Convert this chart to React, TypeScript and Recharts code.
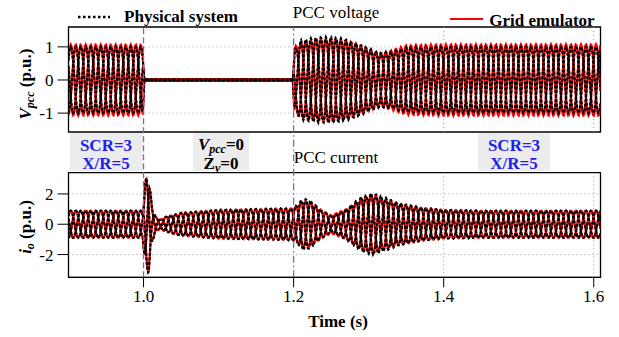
import React from 'react'
import { LineChart, Line, XAxis, YAxis, ReferenceLine, ReferenceArea } from 'recharts'

// grid frequency and sample step of the waveforms
const FREQ = 50
const PHASE0 = -0.15
const T_START = 0.9
const T_END = 1.609
const STEP = 0.001

// PCC voltage envelopes (p.u.)
const vEnvTimes = [0.9, 0.999, 1.001, 1.199, 1.201, 1.21, 1.23, 1.25, 1.27, 1.29, 1.3, 1.315, 1.33, 1.35, 1.4, 1.609]
const vPhysical = [1.0, 1.0, 0.02, 0.02, 0.9, 1.2, 1.28, 1.3, 1.22, 1.05, 0.95, 0.82, 0.85, 0.98, 1.0, 1.0]
const vEmulator = [1.07, 1.07, 0.03, 0.03, 1.0, 1.15, 1.22, 1.25, 1.2, 1.05, 0.95, 0.8, 0.9, 1.05, 1.08, 1.08]

// PCC current envelopes (p.u.)
const iEnvTimes = [0.9, 0.999, 1.002, 1.004, 1.007, 1.011, 1.016, 1.022, 1.03, 1.05, 1.1, 1.15, 1.199, 1.205, 1.212, 1.222, 1.235, 1.25, 1.27, 1.29, 1.305, 1.32, 1.34, 1.37, 1.4, 1.45, 1.609]
const iPhysical = [0.9, 0.9, 2.7, 3.2, 3.2, 1.3, 0.5, 0.3, 0.5, 0.75, 0.95, 1.0, 1.05, 1.3, 1.7, 1.6, 1.0, 0.5, 1.0, 1.8, 2.05, 1.8, 1.4, 1.1, 0.95, 0.9, 0.9]
const iEmulator = [0.9, 0.9, 2.6, 3.1, 3.1, 1.2, 0.5, 0.3, 0.5, 0.75, 0.95, 1.0, 1.05, 1.25, 1.55, 1.5, 1.0, 0.6, 1.0, 1.7, 1.95, 1.7, 1.35, 1.1, 0.95, 0.9, 0.9]

const xTicks = [1.0, 1.2, 1.4, 1.6]
const vTicks = [-1, 0, 1]
const iTicks = [-2, 0, 2]
const eventTimes = [1.0, 1.2]

const FONT = '"Liberation Serif", "Times New Roman", serif'
const PURPLE = '#8b5fc7'
const BLUE = '#1f1fee'

function envAt(ts: number[], vs: number[], t: number) {
  if (t <= ts[0]) return vs[0]
  for (let i = 1; i < ts.length; i++) {
    if (t <= ts[i]) {
      const f = (t - ts[i - 1]) / (ts[i] - ts[i - 1])
      return vs[i - 1] + f * (vs[i] - vs[i - 1])
    }
  }
  return vs[vs.length - 1]
}

function buildWave(ts: number[], phys: number[], emu: number[]) {
  const rows = []
  const n = Math.round((T_END - T_START) / STEP)
  for (let k = 0; k <= n; k++) {
    const t = +(T_START + k * STEP).toFixed(4)
    const th = 2 * Math.PI * (FREQ * t + PHASE0)
    const p = envAt(ts, phys, t)
    const e = envAt(ts, emu, t)
    rows.push({
      t,
      pa: p * Math.cos(th),
      pb: p * Math.cos(th - (2 * Math.PI) / 3),
      pc: p * Math.cos(th + (2 * Math.PI) / 3),
      ea: e * Math.cos(th),
      eb: e * Math.cos(th - (2 * Math.PI) / 3),
      ec: e * Math.cos(th + (2 * Math.PI) / 3)
    })
  }
  return rows
}

const voltageData = buildWave(vEnvTimes, vPhysical, vEmulator)
const currentData = buildWave(iEnvTimes, iPhysical, iEmulator)

const tickStyle = { fontSize: 17, fill: '#000', fontFamily: FONT }

function Txt({ x, y, children, style }: { x: number; y: number; children: React.ReactNode; style?: React.CSSProperties }) {
  return (
    <div
      style={{
        position: 'absolute',
        left: x,
        top: y,
        transform: 'translate(-50%, -50%)',
        whiteSpace: 'nowrap',
        fontFamily: FONT,
        fontSize: 17,
        lineHeight: 1,
        color: '#000',
        ...style
      }}
    >
      {children}
    </div>
  )
}

function Sub({ children }: { children: React.ReactNode }) {
  return <span style={{ fontSize: 12, fontStyle: 'italic', position: 'relative', top: 3 }}>{children}</span>
}

function Box({ x, w }: { x: number; w: number }) {
  return <div style={{ position: 'absolute', left: x, top: 133, width: w, height: 38, background: '#ececec' }} />
}

function waveLines() {
  const keys = ['a', 'b', 'c']
  return [
    ...keys.map(k => (
      <Line key={'e' + k} dataKey={'e' + k} stroke="#ff0000" strokeWidth={2.2} dot={false} isAnimationActive={false} />
    )),
    ...keys.map(k => (
      <Line
        key={'p' + k}
        dataKey={'p' + k}
        stroke="#000"
        strokeWidth={2.2}
        strokeDasharray="3 1.6"
        dot={false}
        isAnimationActive={false}
      />
    ))
  ]
}

const gridStroke = '#9a9a9a'

export default function App() {
  return (
    <div style={{ position: 'absolute', left: 0, top: 0, width: 619, height: 337, background: '#fff', overflow: 'hidden' }}>
      {/* annotation boxes under the charts */}
      <Box x={70} w={73} />
      <Box x={193} w={56} />
      <Box x={478} w={72} />

      <div style={{ position: 'absolute', left: 0, top: 0 }}>
        <LineChart width={619} height={337} data={voltageData} margin={{ top: 27, bottom: 205, left: 8.5, right: 18.5 }}>
          <XAxis dataKey="t" type="number" domain={[T_START, T_END]} allowDataOverflow hide />
          <YAxis
            type="number"
            domain={[-1.57, 1.6]}
            ticks={vTicks}
            allowDataOverflow
            width={60}
            tickSize={11}
            tickMargin={4}
            tick={tickStyle}
            stroke="#000"
          />
          {[-1, 1].map(v => (
            <ReferenceLine key={v} y={v} stroke={gridStroke} strokeDasharray="1 3" />
          ))}
          {[1.4, 1.6].map(v => (
            <ReferenceLine key={v} x={v} stroke={gridStroke} strokeDasharray="1 3" />
          ))}
          {waveLines()}
          <ReferenceArea x1={T_START} x2={T_END} y1={-1.57} y2={1.6} fill="none" stroke="#000" strokeWidth={1.3} fillOpacity={0} />
        </LineChart>
      </div>

      <div style={{ position: 'absolute', left: 0, top: 0 }}>
        <LineChart width={619} height={337} data={currentData} margin={{ top: 172.7, bottom: 29.7, left: 8.5, right: 18.5 }}>
          <XAxis
            dataKey="t"
            type="number"
            domain={[T_START, T_END]}
            allowDataOverflow
            ticks={xTicks}
            tickFormatter={(v: number) => v.toFixed(1)}
            tickSize={10}
            tickMargin={3}
            tick={tickStyle}
            stroke="#000"
            height={30}
          />
          <YAxis
            type="number"
            domain={[-3.5, 3.4]}
            ticks={iTicks}
            allowDataOverflow
            width={60}
            tickSize={11}
            tickMargin={4}
            tick={tickStyle}
            stroke="#000"
          />
          {[-2, 2].map(v => (
            <ReferenceLine key={v} y={v} stroke={gridStroke} strokeDasharray="1 3" />
          ))}
          {[1.4, 1.6].map(v => (
            <ReferenceLine key={v} x={v} stroke={gridStroke} strokeDasharray="1 3" />
          ))}
          {waveLines()}
          <ReferenceArea x1={T_START} x2={T_END} y1={-3.5} y2={3.4} fill="none" stroke="#000" strokeWidth={1.3} fillOpacity={0} />
          {eventTimes.map((t, i) => (
            <ReferenceLine
              key={t}
              segment={[{ x: t, y: -3.5 }, { x: t, y: 13.0 }]}
              ifOverflow="visible"
              stroke={PURPLE}
              strokeWidth={1.3}
              strokeDasharray={i === 0 ? '6 3' : '7 3 1.5 3'}
            />
          ))}
        </LineChart>
      </div>

      {/* legend and titles */}
      <svg width={619} height={30} style={{ position: 'absolute', left: 0, top: 0 }}>
        <line x1={78} x2={110} y1={17} y2={17} stroke="#000" strokeWidth={2.5} strokeDasharray="2.5 2.5" />
        <line x1={450} x2={483} y1={19} y2={19} stroke="#ff0000" strokeWidth={2} />
      </svg>
      <Txt x={181} y={16} style={{ fontWeight: 'bold' }}>Physical system</Txt>
      <Txt x={336} y={12}>PCC voltage</Txt>
      <Txt x={542} y={20} style={{ fontWeight: 'bold' }}>Grid emulator</Txt>
      <Txt x={336} y={157}>PCC current</Txt>

      <Txt x={106} y={145} style={{ fontWeight: 'bold', color: BLUE }}>SCR=3</Txt>
      <Txt x={106} y={163} style={{ fontWeight: 'bold', color: BLUE }}>X/R=5</Txt>
      <Txt x={514} y={145} style={{ fontWeight: 'bold', color: BLUE }}>SCR=3</Txt>
      <Txt x={514} y={163} style={{ fontWeight: 'bold', color: BLUE }}>X/R=5</Txt>

      <Txt x={221} y={144} style={{ fontWeight: 'bold' }}>
        <i>V</i>
        <Sub>pcc</Sub>=0
      </Txt>
      <Txt x={221} y={163} style={{ fontWeight: 'bold' }}>
        Z<Sub>v</Sub>=0
      </Txt>

      <Txt x={25} y={84} style={{ fontWeight: 'bold', transform: 'translate(-50%, -50%) rotate(-90deg)' }}>
        <i>V</i>
        <Sub>pcc</Sub> (p.u.)
      </Txt>
      <Txt x={25} y={227} style={{ fontWeight: 'bold', transform: 'translate(-50%, -50%) rotate(-90deg)' }}>
        <i>i</i>
        <Sub>o</Sub> (p.u.)
      </Txt>

      <Txt x={338} y={321} style={{ fontWeight: 'bold' }}>Time (s)</Txt>
    </div>
  )
}
